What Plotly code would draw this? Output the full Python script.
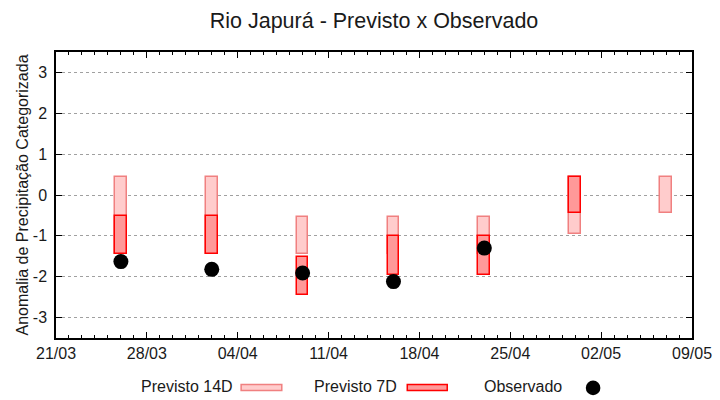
import plotly.graph_objects as go

# ---- data ----
dates = ["2023-03-26", "2023-04-02", "2023-04-09", "2023-04-16",
         "2023-04-23", "2023-04-30", "2023-05-07"]
p14_top = [0.43, 0.43, -0.53, -0.53, -0.53, 0.43, 0.43]
p14_bot = [-1.45, -1.45, -1.44, -1.45, -1.45, -0.96, -0.45]
p7_dates = dates[:6]
p7_top = [-0.52, -0.52, -1.52, -1.01, -1.01, 0.43]
p7_bot = [-1.45, -1.45, -2.44, -1.96, -1.96, -0.45]
obs_dates = dates[:5]
obs = [-1.63, -1.82, -1.91, -2.12, -1.30]
y_ticks = [-3, -2, -1, 0, 1, 2, 3]
legend_labels = ["Previsto 14D", "Previsto 7D", "Observado"]

DAY = 86400000
FONT = "Liberation Sans, Arial, sans-serif"
C14_FILL, C14_LINE = "#ffcccc", "#f08080"
C7_FILL, C7_LINE = "#ff9999", "#ff0000"

fig = go.Figure()
fig.add_trace(go.Bar(
    x=dates, y=[t - b for t, b in zip(p14_top, p14_bot)], base=p14_bot,
    width=0.9 * DAY, name=legend_labels[0],
    marker=dict(color=C14_FILL, line=dict(color=C14_LINE, width=1.5)),
))
fig.add_trace(go.Bar(
    x=p7_dates, y=[t - b for t, b in zip(p7_top, p7_bot)], base=p7_bot,
    width=0.9 * DAY, name=legend_labels[1],
    marker=dict(color=C7_FILL, line=dict(color=C7_LINE, width=1.5)),
))
fig.add_trace(go.Scatter(
    x=obs_dates, y=obs, mode="markers", name=legend_labels[2],
    marker=dict(color="black", size=15, symbol="circle"),
))

# plot area geometry (pixels)
L, R, T, B = 55.7, 692.3, 51.7, 338.3
W, H = 720, 400
pw, ph = R - L, B - T

def px(x):
    return (x - L) / pw

def py(y):
    return (B - y) / ph

# custom gnuplot-style legend (text then sample)
legend_items = [
    (234.5, 241.0, 281.7, C14_FILL, C14_LINE),
    (399.5, 407.3, 447.3, C7_FILL, C7_LINE),
]
annotations = []
shapes = []
text_y = py(386.5)
for lab, (tx, sx0, sx1, fc, lc) in zip(legend_labels[:2], legend_items):
    annotations.append(dict(text=lab, x=px(tx), y=text_y, xref="paper", yref="paper",
                            xanchor="right", yanchor="middle", showarrow=False,
                            font=dict(size=16, color="#1a1a1a", family=FONT)))
    shapes.append(dict(type="rect", xref="paper", yref="paper",
                       x0=px(sx0), x1=px(sx1), y0=py(391), y1=py(385),
                       fillcolor=fc, line=dict(color=lc, width=1.5)))
annotations.append(dict(text=legend_labels[2], x=px(564.5), y=text_y, xref="paper",
                        yref="paper", xanchor="right", yanchor="middle", showarrow=False,
                        font=dict(size=16, color="#1a1a1a", family=FONT)))
shapes.append(dict(type="circle", xref="paper", yref="paper", xsizemode="pixel",
                   ysizemode="pixel", xanchor=px(593.3), yanchor=py(388.3),
                   x0=-7.3, x1=7.3, y0=-7.3, y1=7.3,
                   fillcolor="black", line=dict(color="black", width=0)))

fig.update_layout(
    width=W, height=H,
    margin=dict(l=L, r=W - R, t=T, b=H - B, autoexpand=False),
    paper_bgcolor="white", plot_bgcolor="white",
    barmode="overlay", bargap=0, showlegend=False,
    font=dict(family=FONT, size=16, color="#1a1a1a"),
    title=dict(text="Rio Japurá - Previsto x Observado", x=0.5, xanchor="center",
               xref="paper", y=1 - 20 / H, yanchor="middle", yref="container",
               font=dict(size=21.5, family=FONT, color="#1a1a1a")),
    annotations=annotations, shapes=shapes,
)
fig.update_xaxes(
    type="date", range=["2023-03-21", "2023-05-09"],
    tick0="2023-03-21", dtick=7 * DAY, tickformat="%d/%m",
    ticks="inside", ticklen=6, tickcolor="black", tickwidth=1,
    minor=dict(dtick=DAY, ticks="inside", ticklen=3, tickcolor="black", tickwidth=1),
    showline=True, linecolor="black", linewidth=1.5, mirror="allticks",
    showgrid=False, zeroline=False,
    tickfont=dict(size=16, family=FONT, color="#1a1a1a"),
)
fig.update_yaxes(
    range=[-3.5, 3.5], tickvals=y_ticks, ticktext=[str(v) for v in y_ticks],
    ticks="inside", ticklen=6, tickcolor="black", tickwidth=1,
    showline=True, linecolor="black", linewidth=1.5, mirror="allticks",
    showgrid=True, gridcolor="#a0a0a0", griddash="dot", gridwidth=1,
    zeroline=False, ticklabelstandoff=4,
    tickfont=dict(size=16, family=FONT, color="#1a1a1a"),
    title=dict(text="Anomalia de Precipitação Categorizada", standoff=0,
               font=dict(size=16, family=FONT, color="#1a1a1a")),
)

fig.write_html("out.html", config={"displayModeBar": False},
               post_script="document.body.style.margin='0';document.body.style.overflow='hidden';")
